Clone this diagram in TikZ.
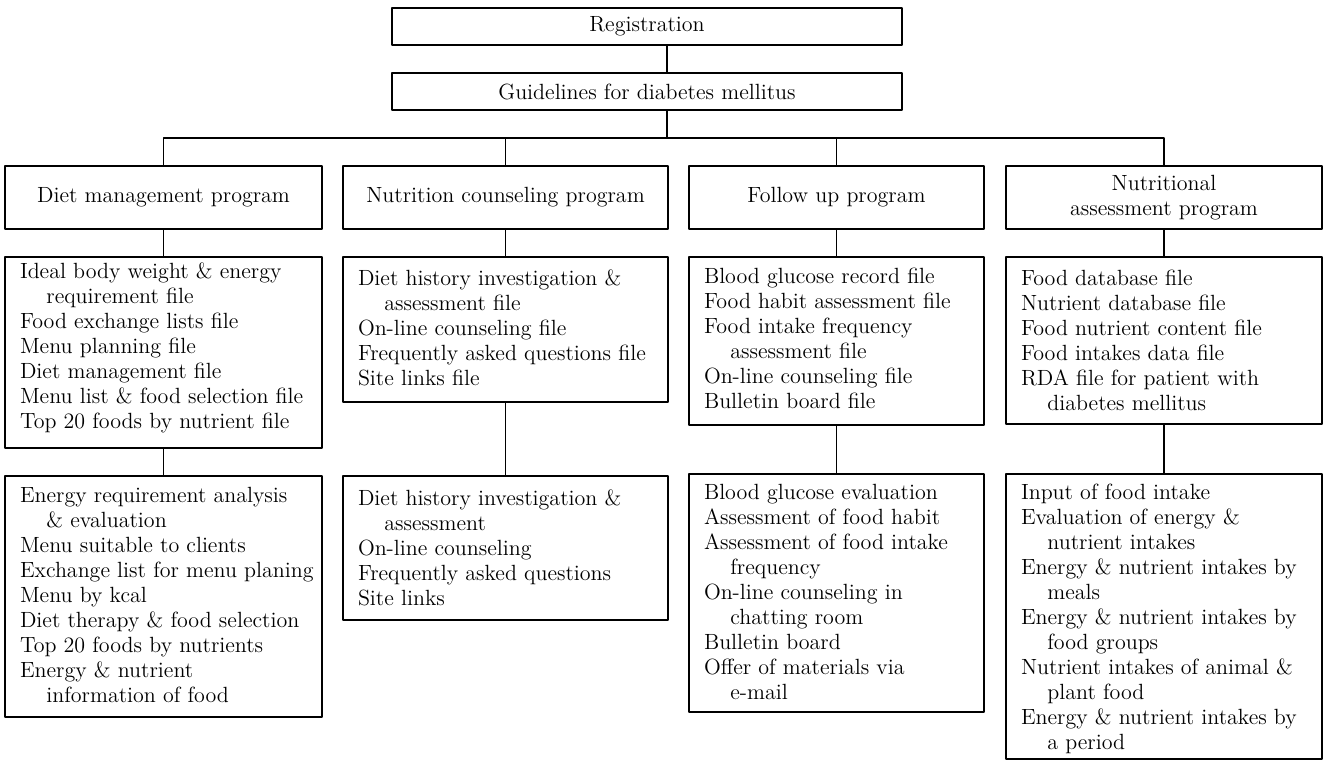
\documentclass[tikz,border=0pt]{standalone}
\usetikzlibrary{fit,positioning}
\newcommand{\tabin}{\hspace*{1.2em}}
\begin{document}
\begin{tikzpicture}[x=0.5pt,y=-0.5pt,line join=round,line cap=round,line width=0.7pt,font=\fontsize{11}{12.5}\selectfont,
	box/.style={draw,inner sep=0pt},
	title/.style={label={[align=center]center:#1}},
	list/.style={align=left,inner sep=0pt,below right=#1 and 7.5pt},
	list/.default=5pt]
	\useasboundingbox (0,0) rectangle (1326,761);
	\node[box,fit={(392,8) (902,45)},title={Registration}] (reg) {};
	\node[box,fit={(392,73) (902,110)},title={Guidelines for diabetes mellitus}] (gdl) {};
	\coordinate (hub) at (667,138);
	\node[box,fit={(5,166) (322,229)},title={Diet management program}] (diet) {};
	\node[box,fit={(343,166) (668,229)},title={Nutrition counseling program}] (nutr) {};
	\node[box,fit={(689,166) (984,229)},title={Follow up program}] (fol) {};
	\node[box,fit={(1006,166) (1322,229)},title={Nutritional\\assessment program}] (nutl) {};
	\node[box,fit={(5,257) (322,448)}] (diet3) {};
	\node[box,fit={(343,257) (668,402)}] (nutr3) {};
	\node[box,fit={(689,257) (984,425)}] (fol3) {};
	\node[box,fit={(1006,257) (1322,424)}] (nutl3) {};
	\node[box,fit={(5,476) (322,717)}] (diet4) {};
	\node[box,fit={(343,476) (668,620)}] (nutr4) {};
	\node[box,fit={(689,474) (984,712)}] (fol4) {};
	\node[box,fit={(1006,474) (1322,759)}] (nutl4) {};
	\node[list=3pt] at (diet3.north west) {Ideal body weight \& energy\\\tabin requirement file\\Food exchange lists file\\Menu planning file\\Diet management file\\Menu list \& food selection file\\Top 20 foods by nutrient file};
	\node[list=6.5pt] at (nutr3.north west) {Diet history investigation \&\\\tabin assessment file\\On-line counseling file\\Frequently asked questions file\\Site links file};
	\node[list=5.5pt] at (fol3.north west) {Blood glucose record file\\Food habit assessment file\\Food intake frequency\\\tabin assessment file\\On-line counseling file\\Bulletin board file};
	\node[list=6.5pt] at (nutl3.north west) {Food database file\\Nutrient database file\\Food nutrient content file\\Food intakes data file\\RDA file for patient with\\\tabin diabetes mellitus};
	\node[list=5.5pt] at (diet4.north west) {Energy requirement analysis\\\tabin\& evaluation\\Menu suitable to clients\\Exchange list for menu planing\\Menu by kcal\\Diet therapy \& food selection\\Top 20 foods by nutrients\\Energy \& nutrient\\\tabin information of food};
	\node[list=7pt] at (nutr4.north west) {Diet history investigation \&\\\tabin assessment\\On-line counseling\\Frequently asked questions\\Site links};
	\node[list] at (fol4.north west) {Blood glucose evaluation\\Assessment of food habit\\Assessment of food intake\\\tabin frequency\\On-line counseling in\\\tabin chatting room\\Bulletin board\\Offer of materials via\\\tabin e-mail};
	\node[list] at (nutl4.north west) {Input of food intake\\Evaluation of energy \&\\\tabin nutrient intakes\\Energy \& nutrient intakes by\\\tabin meals\\Energy \& nutrient intakes by\\\tabin food groups\\Nutrient intakes of animal \&\\\tabin plant food\\Energy \& nutrient intakes by\\\tabin a period};
	\draw (reg.south -| hub) -- (gdl.north -| hub);
	\draw (gdl.south -| hub) -- (hub);
	\draw (diet.north) |- (hub) -- (hub -| nutl.north) -- (nutl.north);
	\draw (nutr.north) -- (nutr.north |- hub);
	\draw (fol.north) -- (fol.north |- hub);
	\draw (diet.south) -- (diet3.north);
	\draw (nutr.south) -- (nutr3.north);
	\draw (fol.south) -- (fol3.north);
	\draw (nutl.south) -- (nutl3.north);
	\draw (diet3.south) -- (diet4.north);
	\draw (nutr3.south) -- (nutr4.north);
	\draw (fol3.south) -- (fol4.north);
	\draw (nutl3.south) -- (nutl4.north);
\end{tikzpicture}
\end{document}
